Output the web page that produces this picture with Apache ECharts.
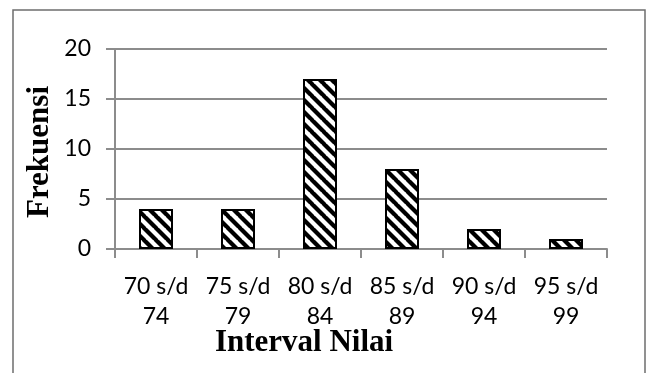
<!DOCTYPE html>
<html>
<head>
<meta charset="utf-8">
<style>
  html, body { margin: 0; padding: 0; background: #fff; }
  #chart { width: 652px; height: 373px; }
</style>
<script src="https://cdn.jsdelivr.net/npm/echarts@6/dist/echarts.min.js"></script>
</head>
<body>
<div id="chart"></div>
<script>
// Frequency distribution of score intervals
const categories = ['70 s/d\n74', '75 s/d\n79', '80 s/d\n84', '85 s/d\n89', '90 s/d\n94', '95 s/d\n99'];
const frequencies = [4, 4, 17, 8, 2, 1];
const yTicks = { min: 0, max: 20, interval: 5 };

// Diagonal hatch tile (lines running top-left to bottom-right)
function makeHatch() {
  const s = 12;
  const c = document.createElement('canvas');
  c.width = s; c.height = s;
  const g = c.getContext('2d');
  g.fillStyle = '#fff';
  g.fillRect(0, 0, s, s);
  g.strokeStyle = '#000';
  g.lineWidth = 4.2;
  for (const x0 of [-s, 0, s]) {
    g.beginPath();
    g.moveTo(x0 - 1, -1);
    g.lineTo(x0 + s + 1, s + 1);
    g.stroke();
  }
  return c;
}

const chart = echarts.init(document.getElementById('chart'), null, { renderer: 'canvas' });
const labelFont = 'Lato, "Open Sans", sans-serif';
const titleFont = '"Liberation Serif", "Times New Roman", serif';

chart.setOption({
  animation: false,
  backgroundColor: '#fff',
  grid: { left: 115, right: 45, top: 49, bottom: 124, containLabel: false },
  xAxis: {
    type: 'category',
    data: categories,
    axisLine: { lineStyle: { color: '#8c8c8c', width: 2 } },
    axisTick: { show: true, length: 9, alignWithLabel: false, lineStyle: { color: '#8c8c8c', width: 2 } },
    axisLabel: { interval: 0, color: '#000', fontFamily: labelFont, fontSize: 23, lineHeight: 30, margin: 23 }
  },
  yAxis: {
    type: 'value',
    min: yTicks.min, max: yTicks.max, interval: yTicks.interval,
    axisLine: { show: true, lineStyle: { color: '#8c8c8c', width: 2 } },
    axisTick: { show: true, length: 9, lineStyle: { color: '#8c8c8c', width: 2 } },
    splitLine: { lineStyle: { color: '#8c8c8c', width: 2 } },
    axisLabel: { color: '#000', fontFamily: labelFont, fontSize: 23, margin: 24 }
  },
  series: [{
    type: 'bar',
    data: frequencies,
    barWidth: 34,
    itemStyle: {
      color: { image: makeHatch(), repeat: 'repeat' },
      borderColor: '#000',
      borderWidth: 2
    }
  }],
  graphic: [
    {
      type: 'rect',
      shape: { x: 13, y: 10, width: 632, height: 380 },
      style: { fill: 'none', stroke: '#6e6e6e', lineWidth: 1.5 },
      silent: true, z: -1
    },
    {
      type: 'text',
      x: 40, y: 152,
      rotation: Math.PI / 2,
      style: {
        text: 'Frekuensi',
        fontFamily: titleFont, fontWeight: 'bold', fontSize: 31,
        fill: '#000', align: 'center', verticalAlign: 'middle'
      }
    },
    {
      type: 'text',
      x: 304, y: 343,
      style: {
        text: 'Interval Nilai',
        fontFamily: titleFont, fontWeight: 'bold', fontSize: 31,
        fill: '#000', align: 'center', verticalAlign: 'middle'
      }
    }
  ]
});
</script>
</body>
</html>
